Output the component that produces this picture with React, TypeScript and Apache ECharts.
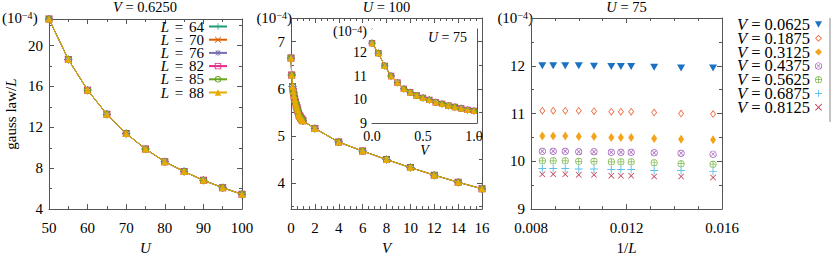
import React, { useEffect, useRef } from 'react';
import * as echarts from 'echarts';

const SERIF = "'Liberation Serif', 'DejaVu Serif', 'Times New Roman', serif";

// ---------- Data ----------
const L_NAMES = ['L = 64', 'L = 70', 'L = 76', 'L = 82', 'L = 85', 'L = 88'];

// Panel 1: V = 0.6250, gauss law / L vs U (units 1e-4)
const U_VALUES = [50, 55, 60, 65, 70, 75, 80, 85, 90, 95, 100];
const GAUSS_VS_U = [22.6, 18.64, 15.64, 13.27, 11.4, 9.88, 8.64, 7.67, 6.82, 6.09, 5.45];

// Panel 2: U = 100, gauss law / L vs V
const V_VALUES_U100 = [0, 0.0625, 0.125, 0.1875, 0.25, 0.3125, 0.375, 0.4375, 0.5, 0.5625, 0.625, 0.6875, 0.75, 0.8125, 0.875, 0.9375, 1, 2, 4, 6, 8, 10, 12, 14, 16];
const GAUSS_VS_V_U100 = [6.65, 6.29, 6.05, 5.95, 5.86, 5.78, 5.71, 5.65, 5.6, 5.55, 5.47, 5.44, 5.41, 5.38, 5.36, 5.34, 5.32, 5.16, 4.87, 4.68, 4.5, 4.33, 4.17, 4.02, 3.88];

// Inset: U = 75, gauss law / L vs V
const V_VALUES_U75 = [0, 0.0625, 0.125, 0.1875, 0.25, 0.3125, 0.375, 0.4375, 0.5, 0.5625, 0.625, 0.6875, 0.75, 0.8125, 0.875, 0.9375, 1];
const GAUSS_VS_V_U75 = [12.4, 11.97, 11.43, 11.0, 10.72, 10.45, 10.3, 10.17, 10.07, 9.98, 9.88, 9.81, 9.74, 9.68, 9.62, 9.56, 9.52];

// Panel 3: U = 75, gauss law / L vs 1/L
const L_SIZES = [118, 112, 106, 100, 94, 88, 85, 82, 76, 70, 64];
const V_NAMES = ['V = 0.0625', 'V = 0.1875', 'V = 0.3125', 'V = 0.4375', 'V = 0.5625', 'V = 0.6875', 'V = 0.8125'];
const GAUSS_V0625 = [12.0, 12.0, 12.0, 12.0, 11.99, 11.985, 11.985, 11.985, 11.97, 11.955, 11.955];
const GAUSS_V1875 = [11.06, 11.06, 11.06, 11.06, 11.05, 11.04, 11.04, 11.04, 11.02, 11.0, 10.99];
const GAUSS_V3125 = [10.53, 10.53, 10.53, 10.52, 10.52, 10.5, 10.5, 10.5, 10.48, 10.46, 10.45];
const GAUSS_V4375 = [10.21, 10.21, 10.21, 10.2, 10.2, 10.19, 10.19, 10.19, 10.18, 10.17, 10.15];
const GAUSS_V5625 = [10.01, 10.01, 10.01, 10.0, 10.0, 9.99, 9.99, 9.99, 9.97, 9.95, 9.94];
const GAUSS_V6875 = [9.85, 9.85, 9.85, 9.84, 9.84, 9.83, 9.83, 9.83, 9.81, 9.81, 9.79];
const GAUSS_V8125 = [9.73, 9.73, 9.73, 9.72, 9.72, 9.7, 9.7, 9.7, 9.68, 9.68, 9.66];
const GAUSS_BY_V = [GAUSS_V0625, GAUSS_V1875, GAUSS_V3125, GAUSS_V4375, GAUSS_V5625, GAUSS_V6875, GAUSS_V8125];

// ---------- Styles ----------
const L_COLORS = ['#1b9e77', '#d95f02', '#7570b3', '#e7298a', '#66a61e', '#e6ab02'];
const PLUS = 'path://M0,4.4H10V5.6H0Z M4.4,0H5.6V10H4.4Z';
const CROSS = 'path://M0,0.85L0.85,0L5,4.15L9.15,0L10,0.85L5.85,5L10,9.15L9.15,10L5,5.85L0.85,10L0,9.15L4.15,5Z';
const STAR = 'path://M0,4.4H10V5.6H0Z M4.4,0H5.6V10H4.4Z M1,1.85L1.85,1L5,4.15L8.15,1L9,1.85L5.85,5L9,8.15L8.15,9L5,5.85L1.85,9L1,8.15L4.15,5Z';
const OPEN_SQUARE = 'path://M0,0H10V10H0Z M1.3,1.3V8.7H8.7V1.3Z';
const OPEN_CIRCLE = 'path://M5,0A5,5,0,1,1,5,10A5,5,0,1,1,5,0Z M5,1.3A3.7,3.7,0,1,0,5,8.7A3.7,3.7,0,1,0,5,1.3Z';
const L_SYMBOLS = [PLUS, CROSS, STAR, OPEN_SQUARE, OPEN_CIRCLE, 'triangle'];
const L_SYMBOL_SIZES = [8, 7, 8, 7, 7, 7];

const V_COLORS = ['#1b72c2', '#f0693a', '#f4a41c', '#9b52b4', '#7ab648', '#5bc0ee', '#c0304a'];
const TRI_DOWN = 'path://M0,0H10L5,9Z';
const OPEN_DIAMOND = 'path://M5,0L10,5L5,10L0,5Z M5,1.7L1.7,5L5,8.3L8.3,5Z';
const CIRCLE_X = 'path://M5,0A5,5,0,1,1,5,10A5,5,0,1,1,5,0Z M5,1A4,4,0,1,0,5,9A4,4,0,1,0,5,1Z M2.2,2.8L2.8,2.2L5,4.4L7.2,2.2L7.8,2.8L5.6,5L7.8,7.2L7.2,7.8L5,5.6L2.8,7.8L2.2,7.2L4.4,5Z';
const CIRCLE_PLUS = 'path://M5,0A5,5,0,1,1,5,10A5,5,0,1,1,5,0Z M5,1A4,4,0,1,0,5,9A4,4,0,1,0,5,1Z M4.5,1H5.5V9H4.5Z M1,4.5H9V5.5H1Z';
const V_SYMBOLS = [TRI_DOWN, OPEN_DIAMOND, 'diamond', CIRCLE_X, CIRCLE_PLUS, PLUS, CROSS];
const V_SYMBOL_SIZES: any[] = [[8, 7], [6, 8], [6, 9], 7, 7, 8, 6];

const AXIS_COLOR = '#555';
const italicRich = (size: number, lineHeight?: number, eqPad = 0) => {
  const lh = lineHeight ? { lineHeight } : {};
  return {
    i: { fontStyle: 'italic', fontFamily: SERIF, fontSize: size, color: '#000', ...lh },
    t: { fontFamily: SERIF, fontSize: size, color: '#000', ...lh },
    e: { fontFamily: SERIF, fontSize: size, color: '#000', padding: [0, eqPad], ...lh },
    s: { fontFamily: SERIF, fontSize: Math.round(size * 0.68), color: '#000', verticalAlign: 'top' },
  };
};

function mkAxis(gridIndex: number, position: string, min: number, max: number, interval: number | null, minorSplit: number, showLabels: boolean, extra: any = {}) {
  const ax: any = {
    type: 'value',
    gridIndex,
    position,
    min,
    max,
    axisLine: { show: true, onZero: false, lineStyle: { color: AXIS_COLOR, width: 1 } },
    axisTick: { show: true, inside: true, length: 5, lineStyle: { color: AXIS_COLOR } },
    minorTick: { show: minorSplit > 1, splitNumber: Math.max(minorSplit, 1), length: 3, lineStyle: { color: AXIS_COLOR } },
    splitLine: { show: false },
    minorSplitLine: { show: false },
    axisLabel: {
      show: showLabels, fontFamily: SERIF, fontSize: 15, color: '#000',
      margin: position === 'bottom' ? 11 : 6,
      ...(extra.axisLabel || {}),
    },
    ...Object.fromEntries(Object.entries(extra).filter(([k]) => k !== 'axisLabel')),
  };
  if (interval !== null) ax.interval = interval;
  return ax;
}

function unitText(x: number, y: number, align: string, size: number) {
  return {
    type: 'text',
    x,
    y,
    style: {
      text: '(10{s|−4})',
      fontFamily: SERIF,
      fontSize: size,
      fill: '#000',
      align,
      verticalAlign: 'middle',
      rich: italicRich(size),
    },
  };
}

function titleText(x: number, y: number, text: string, align: string, size: number) {
  return {
    type: 'text',
    x,
    y,
    style: { text, fontFamily: SERIF, fontSize: size, fill: '#000', align, verticalAlign: 'middle', rich: italicRich(size) },
  };
}

export default function App() {
  const ref = useRef<HTMLDivElement>(null);
  useEffect(() => {
    document.body.style.margin = '0';
    const chart = echarts.init(ref.current!, undefined, { renderer: 'svg' });

    const grids = [
      { left: 49, top: 19, width: 193, height: 206 },
      { left: 291, top: 18, width: 191, height: 207 },
      { left: 372, top: 29, width: 105, height: 94, show: true, backgroundColor: '#fff', borderWidth: 0, z: 5 },
      { left: 531, top: 18, width: 191, height: 207 },
    ];

    const nameStyle = (size: number) => ({ fontFamily: SERIF, fontSize: size, color: '#000', rich: italicRich(size) });

    const xAxis = [
      mkAxis(0, 'bottom', 50, 100, 10, 2, true, { name: '{i|U}', nameLocation: 'middle', nameGap: 24, nameTextStyle: nameStyle(15) }),
      mkAxis(0, 'top', 50, 100, 10, 2, false),
      mkAxis(1, 'bottom', 0, 16, 2, 4, true, { name: '{i|V}', nameLocation: 'middle', nameGap: 23, nameTextStyle: nameStyle(15) }),
      mkAxis(1, 'top', 0, 16, 2, 4, false),
      mkAxis(2, 'bottom', 0, 1.03, 0.5, 0, true, {
        name: '{i|V}', nameLocation: 'middle', nameGap: 16, nameTextStyle: nameStyle(14),
        axisLabel: { fontSize: 14, margin: 6, showMaxLabel: false, formatter: (v: number) => v.toFixed(1) },
      }),
      mkAxis(2, 'top', 0, 1.03, 0.5, 0, false),
      mkAxis(3, 'bottom', 0.008, 0.016, 0.004, 4, true, {
        name: '1/{i|L}', nameLocation: 'middle', nameGap: 24, nameTextStyle: nameStyle(15),
        axisLabel: { formatter: (v: number) => v.toFixed(3) },
      }),
      mkAxis(3, 'top', 0.008, 0.016, 0.004, 4, false),
    ];

    const yAxis = [
      mkAxis(0, 'left', 4, 22.6, 4, 2, true, {
        name: '{t|gauss law/}{i|L}', nameLocation: 'middle', nameGap: 31, nameRotate: 90, nameTextStyle: nameStyle(15),
        axisLabel: { showMaxLabel: false },
      }),
      mkAxis(0, 'right', 4, 22.6, 4, 2, false),
      mkAxis(1, 'left', 3.45, 7.5, null, 2, true, { splitNumber: 4, axisLabel: { showMaxLabel: false, showMinLabel: false } }),
      mkAxis(1, 'right', 3.45, 7.5, null, 2, false, { splitNumber: 4 }),
      mkAxis(2, 'left', 9, 13, 1, 0, true, { axisLabel: { fontSize: 14, margin: 5, showMaxLabel: false } }),
      mkAxis(2, 'right', 9, 13, 1, 0, false),
      mkAxis(3, 'left', 9, 13, 1, 2, true, { axisLabel: { showMaxLabel: false } }),
      mkAxis(3, 'right', 9, 13, 1, 2, false),
    ];

    const series: any[] = [];
    const lineSeries = (xs: number[], ys: number[], xi: number, yi: number, sizeScale: number) =>
      L_NAMES.forEach((name, k) => {
        series.push({
          type: 'line',
          name,
          xAxisIndex: xi,
          yAxisIndex: yi,
          data: xs.map((x, i) => [x, ys[i]]),
          symbol: L_SYMBOLS[k],
          symbolSize: L_SYMBOL_SIZES[k] * sizeScale,
          showAllSymbol: true,
          itemStyle: { color: L_COLORS[k] },
          lineStyle: { color: L_COLORS[k], width: 1 },
          z: 10 + k,
        });
      });
    lineSeries(U_VALUES, GAUSS_VS_U, 0, 0, 1);
    lineSeries(V_VALUES_U100, GAUSS_VS_V_U100, 2, 2, 1);
    lineSeries(V_VALUES_U75, GAUSS_VS_V_U75, 4, 4, 0.9);

    V_NAMES.forEach((name, k) => {
      series.push({
        type: 'scatter',
        name,
        xAxisIndex: 6,
        yAxisIndex: 6,
        data: L_SIZES.map((L, i) => [1 / L, GAUSS_BY_V[k][i]]),
        symbol: V_SYMBOLS[k],
        symbolSize: V_SYMBOL_SIZES[k],
        itemStyle: { color: V_COLORS[k], opacity: 1 },
        z: 10,
      });
    });

    const legendFormatterL = (name: string) => {
      const [lhs, rhs] = name.split(' = ');
      return `{i|${lhs}} {e|=} {t|${rhs}}`;
    };
    const legendFormatterV = (name: string) => {
      const [lhs, rhs] = name.split(' = ');
      return `{i|${lhs}}{t| = ${rhs}}`;
    };

    chart.setOption({
      animation: false,
      backgroundColor: '#fff',
      grid: grids,
      xAxis,
      yAxis,
      series,
      legend: [
        {
          data: L_NAMES,
          orient: 'vertical',
          right: 603,
          top: 19,
          align: 'right',
          padding: 0,
          itemGap: -1.8,
          itemWidth: 18,
          itemHeight: 8,
          selectedMode: false,
          formatter: legendFormatterL,
          textStyle: { fontFamily: SERIF, fontSize: 15, color: '#000', lineHeight: 14.3, rich: italicRich(15, 14.3, 2) },
        },
        {
          data: V_NAMES,
          orient: 'vertical',
          right: 9,
          top: 16,
          align: 'right',
          padding: 0,
          itemGap: -3.2,
          itemWidth: 7,
          itemHeight: 7,
          selectedMode: false,
          formatter: legendFormatterV,
          textStyle: { fontFamily: SERIF, fontSize: 16.5, color: '#000', lineHeight: 13.9, rich: italicRich(16.5, 13.9) },
        },
      ],
      graphic: [
        unitText(2, 18, 'left', 15),
        unitText(292, 18, 'right', 15),
        unitText(533, 18, 'right', 15),
        unitText(367, 31, 'right', 14),
        titleText(145, 7, '{i|V} = 0.6250', 'center', 14.5),
        titleText(386.5, 7, '{i|U} = 100', 'center', 14.5),
        titleText(626.5, 7, '{i|U} = 75', 'center', 14.5),
        { ...titleText(467, 37, '{i|U} = 75', 'right', 14), z: 100 },
        {
          type: 'line',
          shape: { x1: 830, y1: 18, x2: 830, y2: 122 },
          style: { stroke: '#888', lineWidth: 1 },
        },
      ],
    });
    return () => chart.dispose();
  }, []);
  return <div ref={ref} style={{ width: 831, height: 260 }} />;
}
